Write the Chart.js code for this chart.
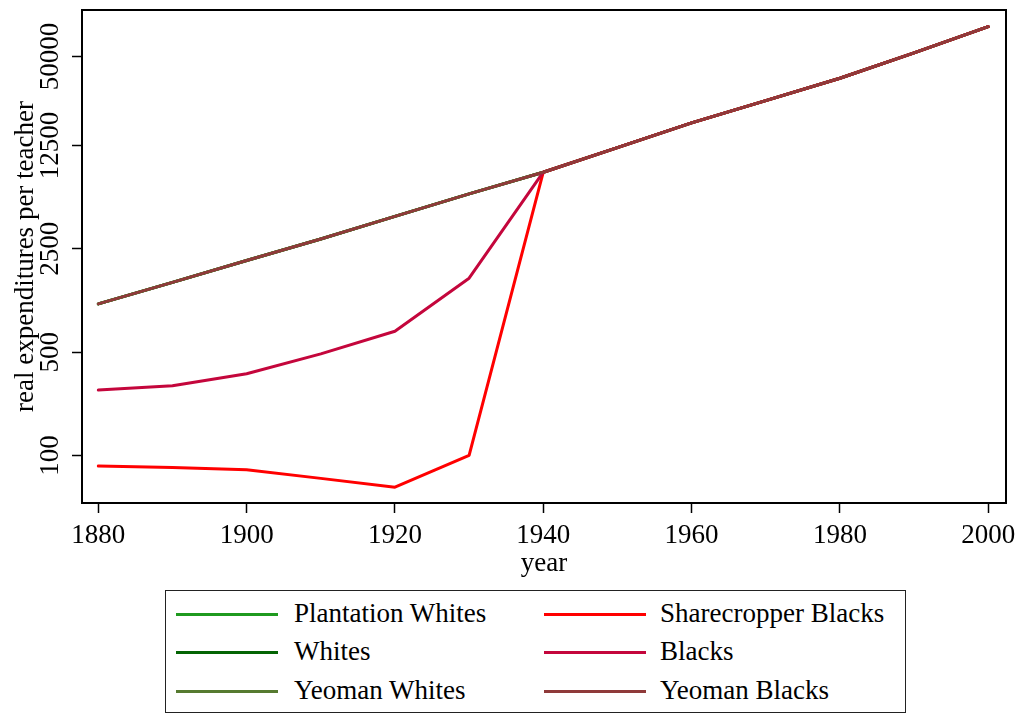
<!DOCTYPE html>
<html>
<head>
<meta charset="utf-8">
<script src="https://cdn.jsdelivr.net/npm/chart.js@4/dist/chart.umd.min.js"></script>
<style>
  html, body { margin: 0; padding: 0; background: #fff; }
  #wrap { position: relative; width: 1023px; height: 715px; background: #fff; overflow: hidden; }
  #chart { position: absolute; left: 0; top: 0; }
  #legend {
    position: absolute; left: 165px; top: 590px; width: 739px; height: 121px;
    border: 1.5px solid #222; box-sizing: content-box;
    font-family: "Liberation Serif", "DejaVu Serif", serif; font-size: 27px; color: #000;
  }
  .item { position: absolute; height: 38px; line-height: 38px; white-space: nowrap; }
  .swatch { position: absolute; top: 17px; width: 102px; height: 3px; }
  .label { position: absolute; top: -2px; }
</style>
</head>
<body>
<div id="wrap">
  <canvas id="chart" width="1023" height="585"></canvas>
  <div id="legend"></div>
</div>
<script>
// Years observed (every decade)
const years = [1880, 1890, 1900, 1910, 1920, 1930, 1940, 1950, 1960, 1970, 1980, 1990, 2000];

// Real expenditures per teacher, by group
const plantationWhites   = [1061, 1483, 2083, 2914, 4143, 5890, 8245, 12090, 17770, 25130, 35620, 52970, 79550];
const whites             = [1061, 1483, 2083, 2914, 4143, 5890, 8245, 12090, 17770, 25130, 35620, 52970, 79550];
const yeomanWhites       = [1061, 1483, 2083, 2914, 4143, 5890, 8245, 12090, 17770, 25130, 35620, 52970, 79550];
const sharecropperBlacks = [85, 83, 80, 70, 61, 100, 8245, 12090, 17770, 25130, 35620, 52970, 79550];
const blacks             = [277, 296, 357, 487, 693, 1583, 8245, 12090, 17770, 25130, 35620, 52970, 79550];
const yeomanBlacks       = [1061, 1483, 2083, 2914, 4143, 5890, 8245, 12090, 17770, 25130, 35620, 52970, 79550];

// Axis ticks
const xTicks = [1880, 1900, 1920, 1940, 1960, 1980, 2000];
const yTicks = [100, 500, 2500, 12500, 50000];
const yTickLabels = ["100", "500", "2500", "12500", "50000"];

const seriesNames = ["Plantation Whites", "Whites", "Yeoman Whites", "Sharecropper Blacks", "Blacks", "Yeoman Blacks"];
const seriesValues = [plantationWhites, whites, yeomanWhites, sharecropperBlacks, blacks, yeomanBlacks];
const seriesColors = ["#1f9a1f", "#046404", "#567a30", "#ff0000", "#c4063c", "#8f3a3a"];
// Drawing priority: lower value is painted on top
const seriesOrder = [5, 4, 3, 2, 1, 0];

const FONT = '"Liberation Serif", "DejaVu Serif", serif';

const datasets = seriesNames.map((name, i) => ({
  label: name,
  data: years.map((yr, j) => ({ x: yr, y: seriesValues[i][j] })),
  borderColor: seriesColors[i],
  backgroundColor: seriesColors[i],
  borderWidth: 3,
  pointRadius: 0,
  tension: 0,
  fill: false,
  borderCapStyle: 'round',
  borderJoinStyle: 'round',
  order: seriesOrder[i]
}));

// Frame around the plot and rotated y tick labels
const framePlugin = {
  id: 'frameAndYLabels',
  afterDraw(chart) {
    const { ctx, chartArea: a } = chart;
    const yScale = chart.scales.y;
    ctx.save();
    ctx.strokeStyle = '#000';
    ctx.lineWidth = 2;
    ctx.strokeRect(a.left, a.top, a.right - a.left, a.bottom - a.top);
    ctx.fillStyle = '#000';
    ctx.font = '27px ' + FONT;
    ctx.textAlign = 'center';
    ctx.textBaseline = 'middle';
    yTicks.forEach((v, i) => {
      const py = yScale.getPixelForValue(v);
      ctx.save();
      ctx.translate(51, py);
      ctx.rotate(-Math.PI / 2);
      ctx.fillText(yTickLabels[i], 0, 0);
      ctx.restore();
    });
    ctx.restore();
  }
};

new Chart(document.getElementById('chart'), {
  type: 'line',
  data: { datasets },
  plugins: [framePlugin],
  options: {
    responsive: false,
    animation: false,
    layout: { padding: { top: 10, right: 17, left: 0, bottom: 0 } },
    plugins: { legend: { display: false }, tooltip: { enabled: false } },
    scales: {
      x: {
        type: 'linear',
        min: 1877.8,
        max: 2002.4,
        afterBuildTicks: (scale) => { scale.ticks = xTicks.map(v => ({ value: v })); },
        afterFit: (scale) => { scale.height = 82; },
        ticks: {
          color: '#000',
          font: { family: FONT, size: 27 },
          padding: 7,
          maxRotation: 0,
          autoSkip: false,
          callback: (v) => String(v)
        },
        grid: { drawOnChartArea: false, drawTicks: true, tickLength: 10, tickWidth: 1.5, tickColor: '#000' },
        border: { display: true, color: '#000', width: 2 },
        title: {
          display: true, text: 'year', color: '#000',
          font: { family: FONT, size: 27 },
          padding: { top: 0, bottom: 5 }
        }
      },
      y: {
        type: 'logarithmic',
        min: 47.7,
        max: 103200,
        afterBuildTicks: (scale) => { scale.ticks = yTicks.map(v => ({ value: v })); },
        afterFit: (scale) => { scale.width = 82; },
        ticks: { display: false },
        grid: { drawOnChartArea: false, drawTicks: true, tickLength: 10, tickWidth: 1.5, tickColor: '#000' },
        border: { display: true, color: '#000', width: 2 },
        title: {
          display: true, text: 'real expenditures per teacher', color: '#000',
          font: { family: FONT, size: 27 },
          padding: { top: 10, bottom: 0 }
        }
      }
    }
  }
});

// Legend: two columns, filled top to bottom
const legend = document.getElementById('legend');
const rowTops = [5, 43, 82];
const colSwatch = [10, 378];
const colText = [128, 494];
seriesNames.forEach((name, i) => {
  const col = Math.floor(i / 3), row = i % 3;
  const item = document.createElement('div');
  item.className = 'item';
  item.style.left = '0px';
  item.style.top = rowTops[row] + 'px';
  const sw = document.createElement('div');
  sw.className = 'swatch';
  sw.style.left = colSwatch[col] + 'px';
  sw.style.background = seriesColors[i];
  const lb = document.createElement('div');
  lb.className = 'label';
  lb.style.left = colText[col] + 'px';
  lb.textContent = name;
  item.appendChild(sw);
  item.appendChild(lb);
  legend.appendChild(item);
});
</script>
</body>
</html>
